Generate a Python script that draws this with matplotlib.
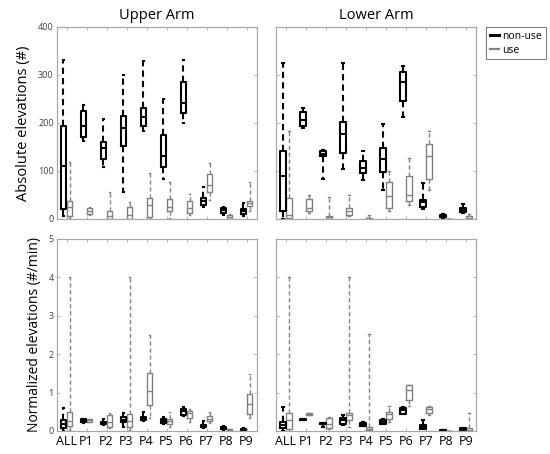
import numpy as np
import matplotlib.pyplot as plt

plt.rcParams['font.family'] = ['Open Sans', 'DejaVu Sans']

groups = ['ALL', 'P1', 'P2', 'P3', 'P4', 'P5', 'P6', 'P7', 'P8', 'P9']

# each row: whisker low, q1, median, q3, whisker high
upper_abs_nonuse = [[6, 21, 110, 193, 332], [162, 171, 194, 226, 237], [108, 125, 147, 160, 208],
                    [56, 153, 190, 214, 301], [183, 193, 212, 232, 329], [83, 109, 131, 175, 249],
                    [200, 220, 241, 286, 331], [24, 29, 37, 43, 67], [8, 13, 18, 22, 25],
                    [6, 10, 16, 20, 33]]
upper_abs_use = [[2, 7, 25, 37, 118], [9, 11, 17, 22, 24], [0, 1, 6, 17, 56],
                 [0, 1, 8, 24, 35], [0, 4, 30, 44, 96], [2, 17, 26, 42, 78],
                 [8, 13, 22, 38, 53], [40, 56, 71, 93, 116], [0, 1, 4, 8, 11],
                 [17, 27, 33, 37, 78]]
lower_abs_nonuse = [[0, 16, 90, 142, 325], [190, 193, 206, 222, 231], [84, 131, 136, 142, 144],
                    [104, 137, 177, 203, 325], [82, 96, 106, 120, 141], [61, 97, 126, 147, 197],
                    [212, 245, 285, 307, 318], [21, 24, 35, 40, 76], [0, 4, 6, 8, 11],
                    [12, 15, 19, 22, 32]]
lower_abs_use = [[0, 2, 9, 44, 184], [12, 16, 23, 42, 49], [0, 1, 4, 7, 46],
                 [6, 9, 16, 22, 49], [0, 0, 1, 2, 9], [16, 23, 47, 77, 99],
                 [30, 38, 49, 89, 127], [60, 83, 131, 157, 183], [0, 0, 0.5, 1, 1],
                 [0, 1, 3, 6, 11]]
upper_norm_nonuse = [[0, 0.07, 0.18, 0.29, 0.61], [0.22, 0.23, 0.27, 0.3, 0.31], [0.15, 0.17, 0.2, 0.24, 0.3],
                     [0.1, 0.24, 0.29, 0.36, 0.46], [0.25, 0.29, 0.32, 0.37, 0.49], [0.17, 0.21, 0.27, 0.31, 0.36],
                     [0.39, 0.42, 0.52, 0.56, 0.62], [0.07, 0.1, 0.14, 0.16, 0.26], [0.03, 0.04, 0.07, 0.1, 0.12],
                     [0, 0.02, 0.04, 0.06, 0.08]]
upper_norm_use = [[0.03, 0.14, 0.27, 0.49, 4.0], [0.23, 0.23, 0.29, 0.31, 0.31], [0.07, 0.11, 0.23, 0.41, 0.48],
                  [0.03, 0.11, 0.25, 0.44, 4.0], [0.33, 0.68, 1.03, 1.5, 2.5], [0.11, 0.18, 0.26, 0.3, 0.49],
                  [0.24, 0.34, 0.46, 0.53, 0.58], [0.22, 0.26, 0.32, 0.38, 0.49], [0.01, 0.01, 0.03, 0.05, 0.05],
                  [0.33, 0.43, 0.7, 0.96, 1.48]]
lower_norm_nonuse = [[0, 0.07, 0.16, 0.24, 0.62], [0.28, 0.28, 0.29, 0.3, 0.3], [0.11, 0.17, 0.18, 0.2, 0.2],
                     [0.16, 0.18, 0.28, 0.33, 0.42], [0.12, 0.14, 0.18, 0.22, 0.23], [0.17, 0.18, 0.24, 0.29, 0.3],
                     [0.43, 0.44, 0.55, 0.59, 0.62], [0.04, 0.06, 0.11, 0.16, 0.29], [0, 0.01, 0.02, 0.03, 0.03],
                     [0.01, 0.03, 0.04, 0.07, 0.09]]
lower_norm_use = [[0, 0.04, 0.29, 0.46, 4.0], [0.41, 0.41, 0.44, 0.48, 0.48], [0.04, 0.07, 0.18, 0.34, 0.37],
                  [0.1, 0.28, 0.41, 0.48, 4.0], [0, 0.02, 0.05, 0.1, 2.52], [0.23, 0.32, 0.44, 0.5, 0.65],
                  [0.65, 0.81, 1.07, 1.2, 1.2], [0.42, 0.48, 0.57, 0.63, 0.65], [0, 0, 0.01, 0.01, 0.01],
                  [0, 0.01, 0.03, 0.07, 0.46]]

BLACK = 'black'
GRAY = '#828282'
FRAME = '#a8a8a8'


def to_stats(rows):
    return [dict(whislo=r[0], q1=r[1], med=r[2], q3=r[3], whishi=r[4], fliers=[]) for r in rows]


def draw_boxes(ax, rows, offset, color, lw):
    pos = np.arange(1, len(rows) + 1) + offset
    props = dict(color=color, linewidth=lw)
    ax.bxp(to_stats(rows), positions=pos, widths=0.27, capwidths=0.08,
           showfliers=False, manage_ticks=False,
           boxprops=props, medianprops=props, capprops=props,
           whiskerprops=dict(color=color, linewidth=lw, linestyle=(0, (3, 2))))


def style_axes(ax, ymax, yticks, show_ylabels, show_xlabels):
    ax.set_xlim(0.5, 10.5)
    ax.set_ylim(0, ymax)
    ax.set_xticks(np.arange(1, 11))
    ax.set_yticks(yticks)
    if show_xlabels:
        ax.set_xticklabels(groups, fontsize=9, color='black')
    else:
        ax.set_xticklabels([])
    if not show_ylabels:
        ax.set_yticklabels([])
    ax.tick_params(direction='in', top=True, right=True, length=2.5, width=0.6,
                   color=FRAME, labelsize=6.5, pad=2)
    ax.tick_params(axis='y', labelcolor='#404040')
    ax.tick_params(axis='x', labelsize=9, pad=3)
    for sp in ax.spines.values():
        sp.set_color(FRAME)
        sp.set_linewidth(0.9)


fig = plt.figure(figsize=(5.5, 4.54), dpi=100)
w, h = 200 / 550, 192 / 454
ax_ul = fig.add_axes([56.5 / 550, 1 - 219 / 454, w, h])
ax_ur = fig.add_axes([276 / 550, 1 - 219 / 454, w, h])
ax_ll = fig.add_axes([56.5 / 550, 1 - 431 / 454, w, h])
ax_lr = fig.add_axes([276 / 550, 1 - 431 / 454, w, h])

panels = [
    (ax_ul, upper_abs_nonuse, upper_abs_use, 400, [0, 100, 200, 300, 400], True, False),
    (ax_ur, lower_abs_nonuse, lower_abs_use, 400, [0, 100, 200, 300, 400], False, False),
    (ax_ll, upper_norm_nonuse, upper_norm_use, 5, [0, 1, 2, 3, 4, 5], True, True),
    (ax_lr, lower_norm_nonuse, lower_norm_use, 5, [0, 1, 2, 3, 4, 5], False, True),
]
for ax, nonuse, use, ymax, yt, sy, sx in panels:
    draw_boxes(ax, use, 0.15, GRAY, 1.0)
    draw_boxes(ax, nonuse, -0.16, BLACK, 1.5)
    style_axes(ax, ymax, yt, sy, sx)

ax_ul.set_title('Upper Arm', fontsize=10.5, pad=6)
ax_ur.set_title('Lower Arm', fontsize=10.5, pad=6)
ax_ul.set_ylabel('Absolute elevations (#)', fontsize=10.5, labelpad=5)
ax_ll.set_ylabel('Normalized elevations (#/min)', fontsize=10, labelpad=5)

h1, = ax_ur.plot([], [], color=BLACK, lw=2.2, label='non-use')
h2, = ax_ur.plot([], [], color=GRAY, lw=1.6, label='use')
leg = ax_ur.legend(handles=[h1, h2], loc='upper left', bbox_to_anchor=(1.05, 1.0),
                   fontsize=7.5, frameon=True, fancybox=False, handlelength=0.9,
                   handletextpad=0.3, borderpad=0.35, labelspacing=0.3, borderaxespad=0)
leg.get_frame().set_edgecolor('#606060')
leg.get_frame().set_linewidth(0.8)

fig.savefig('out.png', dpi=100)
